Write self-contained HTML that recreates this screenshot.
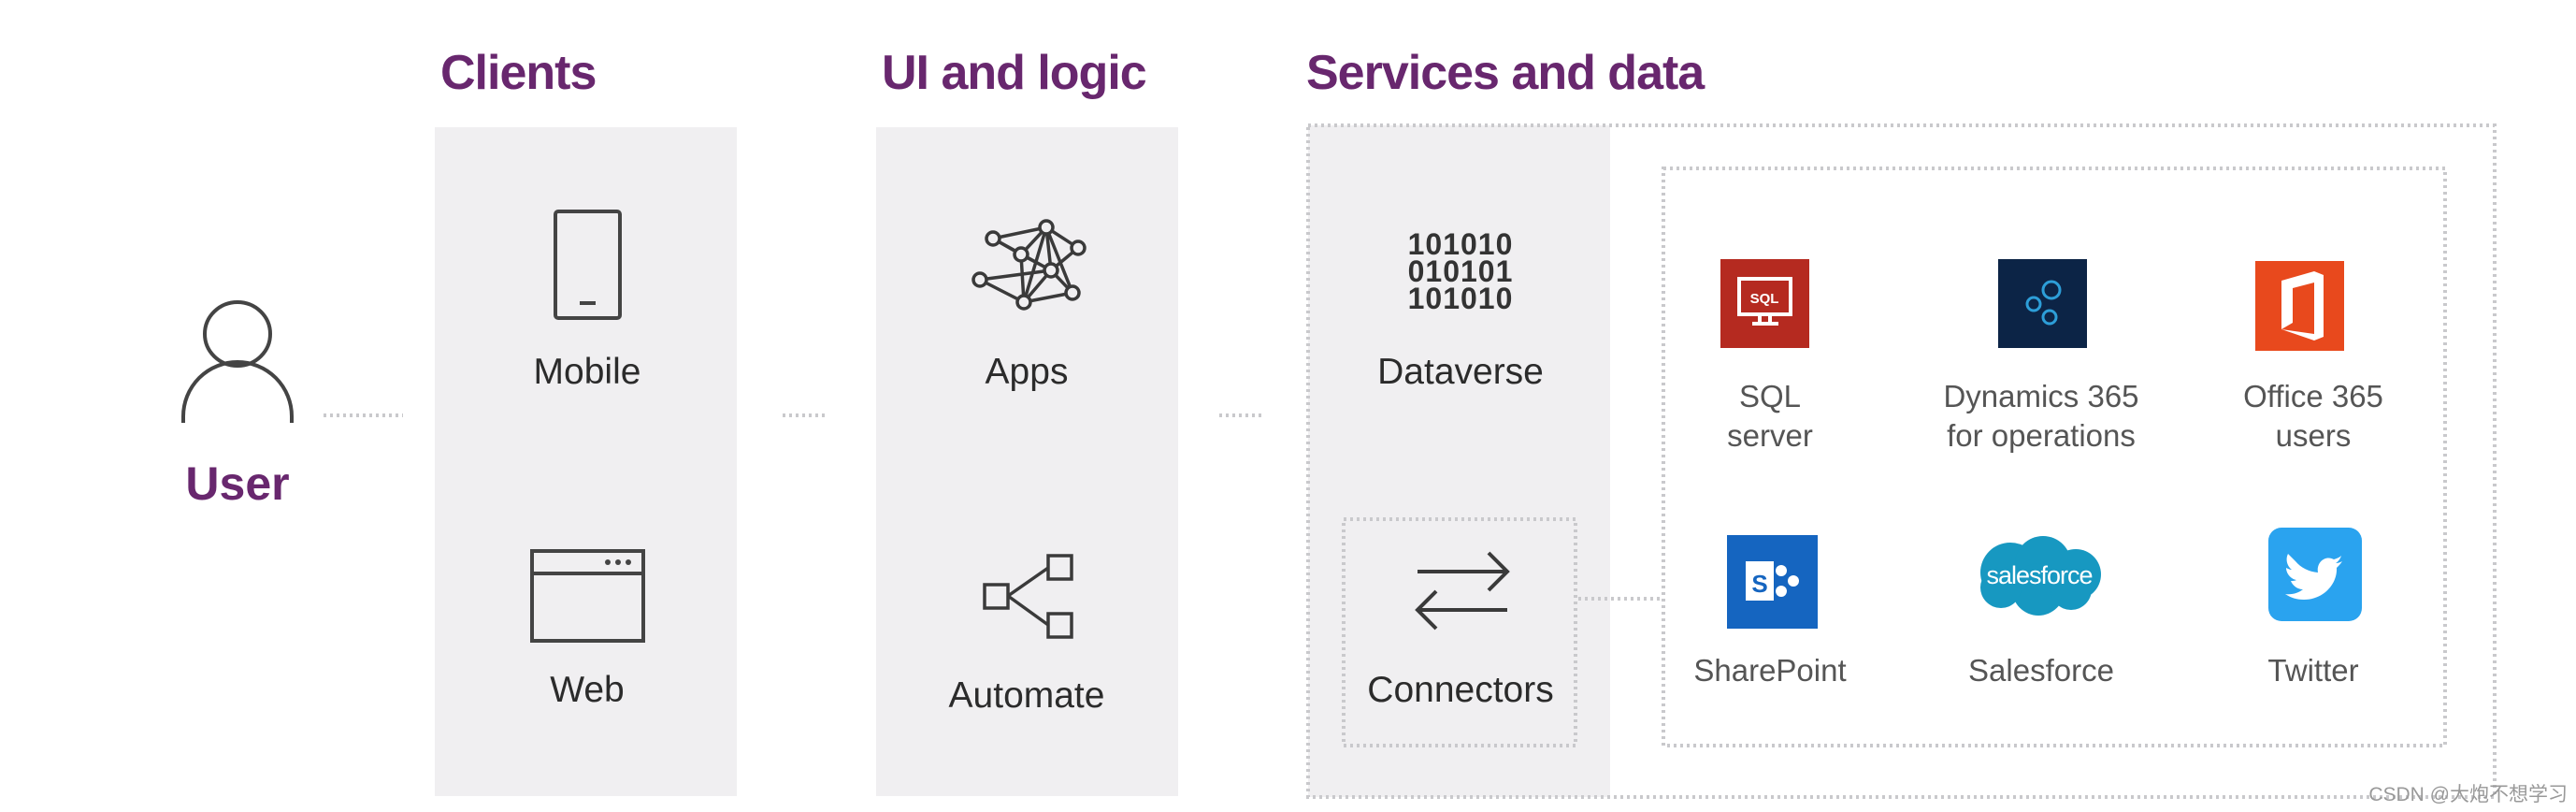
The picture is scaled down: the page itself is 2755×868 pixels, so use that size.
<!DOCTYPE html>
<html><head><meta charset="utf-8"><style>
html,body{margin:0;padding:0;background:#fff;}
svg{display:block;}
text{font-family:"Liberation Sans","Noto Sans CJK SC",sans-serif;}
</style></head><body>
<svg width="2755" height="868" viewBox="0 0 2755 868" xmlns="http://www.w3.org/2000/svg">
<!-- titles -->
<g fill="#68276e" font-size="52" font-weight="bold">
<text x="471" y="95" letter-spacing="-1">Clients</text>
<text x="943" y="95" letter-spacing="-1">UI and logic</text>
<text x="1397" y="95" letter-spacing="-1">Services and data</text>
</g>
<!-- panels -->
<rect x="465" y="136" width="323" height="715" fill="#f0eff1"/>
<rect x="937" y="136" width="323" height="715" fill="#f0eff1"/>
<rect x="1399" y="134" width="323" height="718" fill="#f0eff1"/>
<g fill="none" stroke="#c9c9cc" stroke-width="4" stroke-dasharray="3 4">
<rect x="1399" y="134" width="1269" height="718"/>
<rect x="1779" y="180" width="836" height="617"/>
<rect x="1437" y="555" width="248" height="242"/>
<line x1="1688" y1="640" x2="1777" y2="640"/>
<line x1="346" y1="444" x2="431" y2="444"/>
<line x1="837" y1="444" x2="884" y2="444"/>
<line x1="1304" y1="444" x2="1350" y2="444"/>
</g>
<!-- user -->
<g fill="none" stroke="#444" stroke-width="4">
<ellipse cx="254" cy="357" rx="35" ry="34"/>
<path d="M196 452 L196 445 A58 58 0 0 1 312 445 L312 452"/>
</g>
<text x="254" y="534" fill="#68276e" font-size="50" font-weight="bold" text-anchor="middle">User</text>
<!-- mobile -->
<g fill="none" stroke="#444" stroke-width="4">
<rect x="594" y="226" width="69" height="114" rx="3"/>
<line x1="620" y1="324" x2="637" y2="324"/>
<rect x="569" y="589" width="119" height="96"/>
<line x1="569" y1="613" x2="688" y2="613"/>
</g>
<g fill="#444"><circle cx="650" cy="601" r="3"/><circle cx="661" cy="601" r="3"/><circle cx="672" cy="601" r="3"/></g>
<g fill="#2b2b2b" font-size="39" text-anchor="middle">
<text x="628" y="410">Mobile</text>
<text x="628" y="750">Web</text>
<text x="1098" y="410">Apps</text>
<text x="1098" y="756">Automate</text>
<text x="1562" y="410">Dataverse</text>
<text x="1562" y="750">Connectors</text>
</g>
<!-- apps network -->
<g stroke="#3a3a3a" stroke-width="3.5" fill="none">
<path d="M1062 255L1119 243L1153 265M1062 255L1092 272L1119 243M1062 255L1124 289M1119 243L1095 323M1119 243L1147 313M1153 265L1124 289M1092 272L1095 323M1092 272L1124 289M1048 299L1124 289M1048 299L1095 323L1147 313L1124 289M1124 289L1095 323M1119 243L1124 289"/>
</g>
<g stroke="#3a3a3a" stroke-width="3.5" fill="#f0eff1">
<circle cx="1062" cy="255" r="7"/><circle cx="1119" cy="243" r="7"/><circle cx="1153" cy="265" r="7"/><circle cx="1092" cy="272" r="7"/><circle cx="1124" cy="289" r="7"/><circle cx="1048" cy="299" r="7"/><circle cx="1147" cy="313" r="7"/><circle cx="1095" cy="323" r="7"/>
</g>
<!-- automate -->
<g stroke="#3a3a3a" stroke-width="3.5" fill="none">
<rect x="1053" y="625" width="25" height="25"/><rect x="1121" y="594" width="25" height="25"/><rect x="1121" y="656" width="25" height="25"/>
<path d="M1078 637L1121 607M1078 637L1121 668"/>
</g>
<!-- binary -->
<g fill="#333" font-size="32" font-weight="bold" text-anchor="middle" letter-spacing="1">
<text x="1562" y="272">101010</text><text x="1562" y="301">010101</text><text x="1562" y="330">101010</text>
</g>
<!-- arrows -->
<g stroke="#3a3a3a" stroke-width="4" fill="none">
<path d="M1516 611H1612M1592 591L1612 611L1592 631"/>
<path d="M1516 652H1612M1536 632L1516 652L1536 672"/>
</g>
<!-- service icons -->
<rect x="1840" y="277" width="95" height="95" fill="#b52a20"/>
<rect x="1860" y="298" width="55" height="38" fill="none" stroke="#fff" stroke-width="4"/>
<text x="1887" y="324" fill="#fff" font-size="15" font-weight="bold" text-anchor="middle">SQL</text>
<path d="M1882 336v8M1893 336v8M1874 346h28" stroke="#fff" stroke-width="4"/>
<rect x="2137" y="277" width="95" height="95" fill="#0c2446"/>
<g fill="none" stroke="#2d9ed8" stroke-width="3"><circle cx="2194" cy="310" r="9"/><circle cx="2175" cy="325" r="7"/><circle cx="2192" cy="339" r="7"/></g>
<rect x="2412" y="279" width="95" height="96" fill="#e8491d"/>
<path d="M2440 300L2475 290L2485 294V360L2475 364L2440 352L2475 357V302L2452 308V345L2440 352Z" fill="#fff"/>
<rect x="1847" y="572" width="97" height="100" fill="#1565c0"/>
<rect x="1867" y="600" width="30" height="42" fill="#fff"/>
<text x="1882" y="633" fill="#1565c0" font-size="26" font-weight="bold" text-anchor="middle">S</text>
<circle cx="1905" cy="610" r="6" fill="#fff"/><circle cx="1918" cy="621" r="6" fill="#fff"/><circle cx="1905" cy="632" r="6" fill="#fff"/>
<g fill="#1798c1">
<circle cx="2150" cy="612" r="32"/><circle cx="2185" cy="603" r="30"/><circle cx="2220" cy="614" r="27"/><circle cx="2180" cy="630" r="28"/><circle cx="2140" cy="628" r="22"/><circle cx="2215" cy="630" r="22"/>
</g>
<text x="2181" y="624" fill="#fff" font-size="27" text-anchor="middle" letter-spacing="-1">salesforce</text>
<rect x="2426" y="564" width="100" height="100" rx="14" fill="#2aa3ef"/>
<path d="M2455 600c6 7 14 11 24 12c-2-11 8-19 17-14c3-1 6-2 8-4c-1 3-3 6-6 8c3 0 5-1 7-2c-2 3-4 5-6 7c1 17-14 34-35 34c-8 0-14-2-20-6c7 1 14-1 19-5c-6 0-11-4-13-9c2 0 4 0 6-1c-6-1-11-7-11-13c2 1 4 2 6 2c-5-4-7-11-4-17z" fill="#fff"/>
<!-- service labels -->
<g fill="#555" font-size="33" text-anchor="middle">
<text x="1893" y="435">SQL</text><text x="1893" y="477">server</text>
<text x="2183" y="435">Dynamics 365</text><text x="2183" y="477">for operations</text>
<text x="2474" y="435">Office 365</text><text x="2474" y="477">users</text>
<text x="1893" y="728">SharePoint</text>
<text x="2183" y="728">Salesforce</text>
<text x="2474" y="728">Twitter</text>
</g>
<text x="2746" y="856" fill="#999" font-size="21" text-anchor="end">CSDN @大炮不想学习</text>
</svg>
</body></html>
